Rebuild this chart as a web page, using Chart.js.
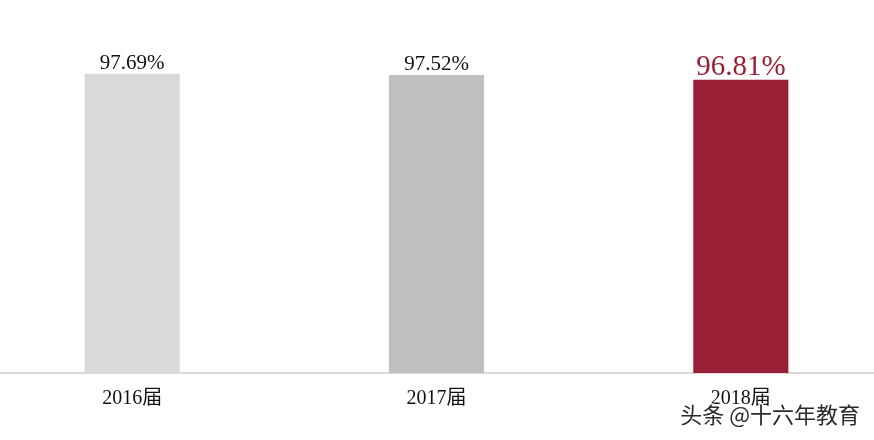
<!DOCTYPE html>
<html>
<head>
<meta charset="utf-8">
<script src="https://cdn.jsdelivr.net/npm/chart.js@4/dist/chart.umd.min.js"></script>
<style>
html,body{margin:0;padding:0;background:#fff;overflow:hidden;}
#wrap{width:874px;height:440px;position:relative;overflow:hidden;}
#c{position:absolute;left:-20px;top:0;}
</style>
</head>
<body>
<div id="wrap"><canvas id="c" width="913" height="440"></canvas></div>
<script>
const categories = ["2016届", "2017届", "2018届"];
const rates = [97.69, 97.52, 96.81];
const valueLabels = ["97.69%", "97.52%", "96.81%"];
const barColors = ["#d9d9d9", "#bfbfbf", "#9b1f34"];
const labelColors = ["#111111", "#111111", "#9b1f34"];
const labelSizes = [21, 21, 29];
const watermark = "头条 @十六年教育";

const valueLabelPlugin = {
  id: "valueLabels",
  afterDatasetsDraw(chart) {
    const ctx = chart.ctx;
    const meta = chart.getDatasetMeta(0);
    ctx.save();
    meta.data.forEach((bar, i) => {
      ctx.font = labelSizes[i] + "px 'Liberation Serif', 'Noto Sans CJK SC', serif";
      ctx.fillStyle = labelColors[i];
      ctx.textAlign = "center";
      ctx.textBaseline = "alphabetic";
      ctx.fillText(valueLabels[i], bar.x, bar.y - 5);
    });
    ctx.restore();
  }
};

const watermarkPlugin = {
  id: "watermark",
  afterDraw(chart) {
    const ctx = chart.ctx;
    ctx.save();
    ctx.font = "22px 'Noto Sans CJK SC', sans-serif";
    ctx.textAlign = "right";
    ctx.textBaseline = "middle";
    ctx.lineWidth = 3;
    ctx.strokeStyle = "rgba(255,255,255,0.9)";
    ctx.strokeText(watermark, chart.width - 33, 415);
    ctx.fillStyle = "#2a2a2a";
    ctx.fillText(watermark, chart.width - 33, 415);
    ctx.restore();
  }
};

new Chart(document.getElementById("c"), {
  type: "bar",
  data: {
    labels: categories,
    datasets: [{
      data: rates,
      backgroundColor: barColors,
      borderWidth: 0,
      barPercentage: 0.625,
      categoryPercentage: 0.5
    }]
  },
  options: {
    responsive: false,
    animation: false,
    devicePixelRatio: 1,
    layout: { padding: { left: 0, right: 0, top: 10, bottom: 15 } },
    plugins: { legend: { display: false }, tooltip: { enabled: false } },
    scales: {
      x: {
        grid: { display: false, drawTicks: false },
        border: { display: true, color: "#d9d9d9", width: 2 },
        ticks: {
          color: "#111111",
          padding: 14,
          font: { family: "'Liberation Serif', 'Noto Sans CJK SC', serif", size: 20 }
        }
      },
      y: {
        display: false,
        min: 54,
        max: 107
      }
    }
  },
  plugins: [valueLabelPlugin, watermarkPlugin]
});
</script>
</body>
</html>
